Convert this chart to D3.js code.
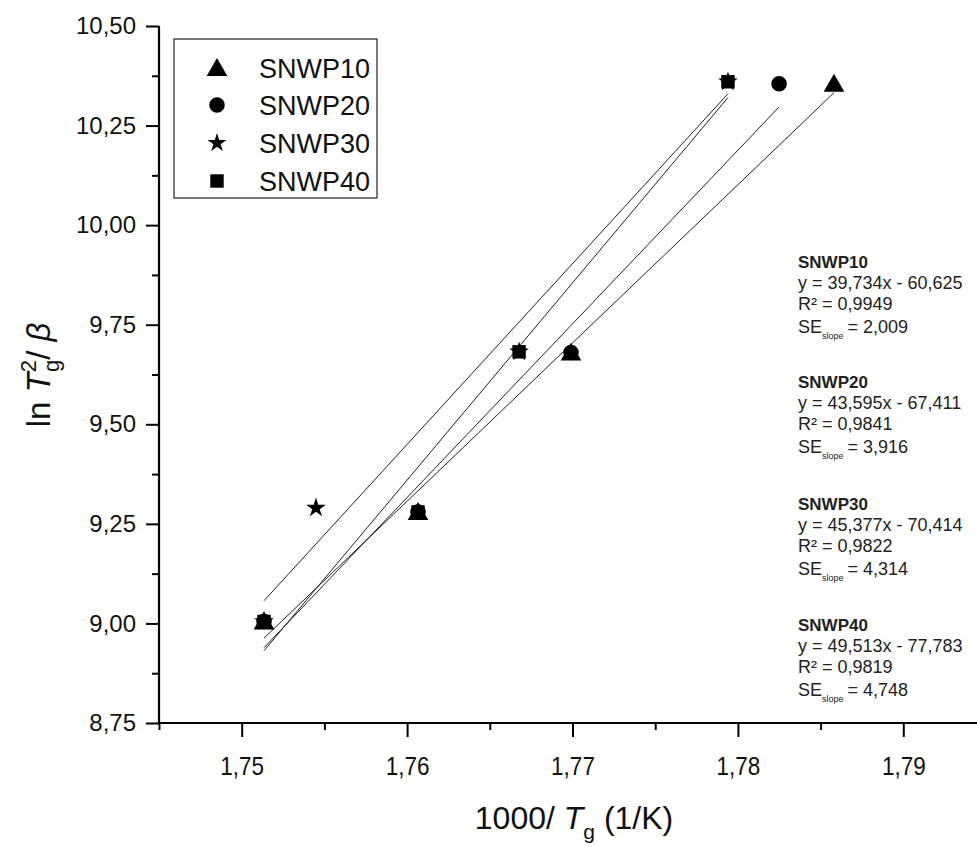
<!DOCTYPE html>
<html><head><meta charset="utf-8">
<script src="https://cdn.jsdelivr.net/npm/d3@7"></script>
<style>
body{margin:0;background:#fff;}
svg{display:block;font-family:"Liberation Sans",Arial,sans-serif;}
</style></head>
<body><svg id="c" width="977" height="847"></svg>
<script>
// ---- data ----
const seriesNames = ["SNWP10", "SNWP20", "SNWP30", "SNWP40"];
const snwp10X = [1.75135, 1.76066, 1.76991, 1.78581];
const snwp10Y = [9.005, 9.280, 9.680, 10.355];
const snwp20X = [1.75135, 1.76066, 1.76991, 1.78249];
const snwp20Y = [9.005, 9.280, 9.680, 10.355];
const snwp30X = [1.75135, 1.75449, 1.76677, 1.77940];
const snwp30Y = [9.005, 9.290, 9.682, 10.360];
const snwp40X = [1.75135, 1.76066, 1.76677, 1.77940];
const snwp40Y = [9.005, 9.280, 9.682, 10.360];
const fitSlopes = [39.734, 43.595, 45.377, 49.513];
const fitIntercepts = [-60.625, -67.411, -70.414, -77.783];
const fitEquations = ["y = 39,734x - 60,625", "y = 43,595x - 67,411", "y = 45,377x - 70,414", "y = 49,513x - 77,783"];
const fitR2 = ["R² = 0,9949", "R² = 0,9841", "R² = 0,9822", "R² = 0,9819"];
const fitSE = ["= 2,009", "= 3,916", "= 4,314", "= 4,748"];
const xTicks = [1.75, 1.76, 1.77, 1.78, 1.79];
const yTicks = [8.75, 9.00, 9.25, 9.50, 9.75, 10.00, 10.25, 10.50];

const seriesX = [snwp10X, snwp20X, snwp30X, snwp40X];
const seriesY = [snwp10Y, snwp20Y, snwp30Y, snwp40Y];
const symbols = [d3.symbolTriangle, d3.symbolCircle, d3.symbolStar, d3.symbolSquare];
const symSizes = [185, 190, 120, 180];

const svg = d3.select("#c");
const loc = d3.formatLocale({decimal: ",", thousands: ".", grouping: [3], currency: ["", ""]});
const x = d3.scaleLinear().domain([1.745, 1.795]).range([159, 986]);
const y = d3.scaleLinear().domain([8.75, 10.5]).range([723, 26]);

// axes
const xMinor = d3.range(1.745, 1.7951, 0.01);
const xAx = svg.append("g").attr("transform", "translate(0,723)");
xAx.call(d3.axisBottom(x).tickValues(xTicks).tickFormat(loc.format(".2f")).tickSize(14).tickPadding(18));
xAx.append("g").call(d3.axisBottom(x).tickValues(xMinor).tickFormat("").tickSize(7)).select(".domain").remove();
const yMinor = d3.range(8.875, 10.5, 0.25);
const yAx = svg.append("g").attr("transform", "translate(159,0)");
yAx.call(d3.axisLeft(y).tickValues(yTicks).tickFormat(loc.format(".2f")).tickSize(13).tickPadding(10));
yAx.append("g").call(d3.axisLeft(y).tickValues(yMinor).tickFormat("").tickSize(7)).select(".domain").remove();
svg.selectAll(".domain").attr("stroke-width", 2.2).attr("stroke", "#000");
svg.selectAll(".tick line").attr("stroke-width", 2).attr("stroke", "#000");
xAx.selectAll(".tick text").attr("font-size", 25).attr("fill", "#111").attr("transform", "scale(0.9,1.05)");
yAx.selectAll(".tick text").attr("font-size", 24).attr("fill", "#111");
xAx.select(".domain").attr("d", `M${x(1.745)},0H${x(1.795)}`);
yAx.select(".domain").attr("d", `M0,${y(8.75)}V${y(10.5)}`);

// fit lines
seriesNames.forEach((n, i) => {
  const xs = seriesX[i];
  const x0 = d3.min(xs), x1 = d3.max(xs);
  svg.append("line")
    .attr("x1", x(x0)).attr("y1", y(fitSlopes[i] * x0 + fitIntercepts[i]))
    .attr("x2", x(x1)).attr("y2", y(fitSlopes[i] * x1 + fitIntercepts[i]))
    .attr("stroke", "#222").attr("stroke-width", 1);
});

// points
seriesNames.forEach((n, i) => {
  svg.append("g").selectAll("path").data(seriesX[i].map((v, j) => [v, seriesY[i][j]]))
    .join("path")
    .attr("transform", d => `translate(${x(d[0])},${y(d[1]) + (i === 0 ? 2 : 0)})`)
    .attr("d", d3.symbol(symbols[i], symSizes[i]))
    .attr("fill", "#000");
});

// legend
const lg = svg.append("g");
lg.append("rect").attr("x", 174).attr("y", 39).attr("width", 203).attr("height", 159)
  .attr("fill", "#fff").attr("stroke", "#333").attr("stroke-width", 1.3);
const legRows = [68, 105, 143, 181];
seriesNames.forEach((n, i) => {
  lg.append("path").attr("transform", `translate(217,${legRows[i] + (i === 0 ? 2 : 0)})`)
    .attr("d", d3.symbol(symbols[i], i === 2 ? 110 : symSizes[i])).attr("fill", "#000");
  lg.append("text").attr("x", 259).attr("y", legRows[i] + 10).attr("font-size", 27).attr("fill", "#111").text(n);
});

// annotation blocks
const blockTops = [268, 388, 510, 631];
seriesNames.forEach((n, i) => {
  const g = svg.append("g").attr("font-size", 18).attr("fill", "#222");
  const t = blockTops[i];
  g.append("text").attr("x", 798).attr("y", t).attr("font-weight", "bold").attr("font-size", 17).text(n);
  g.append("text").attr("x", 798).attr("y", t + 21).text(fitEquations[i]);
  g.append("text").attr("x", 798).attr("y", t + 42).text(fitR2[i]);
  const se = g.append("text").attr("x", 798).attr("y", t + 65);
  se.append("tspan").text("SE");
  se.append("tspan").attr("font-size", 9).attr("dy", 6).text("slope");
  se.append("tspan").attr("dy", -6).attr("dx", 4).text(fitSE[i]);
});

// x title
const xt = svg.append("text").attr("x", 574).attr("y", 829).attr("text-anchor", "middle").attr("font-size", 32).attr("fill", "#111");
xt.append("tspan").text("1000/ ");
xt.append("tspan").attr("font-style", "italic").text("T");
xt.append("tspan").attr("font-size", 21).attr("dy", 10).text("g");
xt.append("tspan").attr("dy", -10).text(" (1/K)");

// y title
const yt = svg.append("text").attr("transform", "translate(50,375) rotate(-90)").attr("text-anchor", "middle").attr("font-size", 33).attr("fill", "#111");
yt.append("tspan").text("ln ");
yt.append("tspan").attr("font-style", "italic").text("T");
yt.append("tspan").attr("font-size", 22).attr("dy", -14).text("2");
yt.append("tspan").attr("font-size", 22).attr("dx", -12).attr("dy", 23).text("g");
yt.append("tspan").attr("dy", -9).text("/ ");
yt.append("tspan").attr("font-style", "italic").text("β");
</script></body></html>
